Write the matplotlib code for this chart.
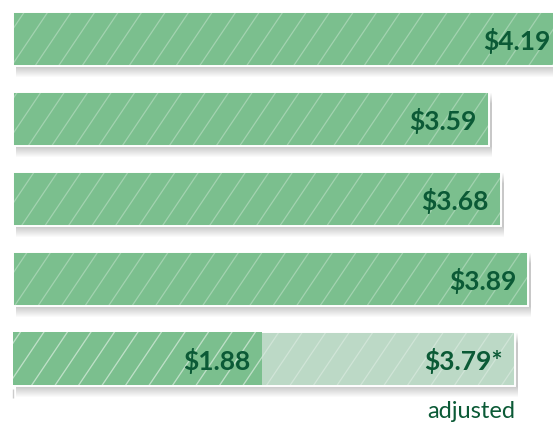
import numpy as np
import matplotlib.pyplot as plt
from matplotlib.collections import LineCollection
from matplotlib.patches import Rectangle

# values
values = [4.19, 3.59, 3.68, 3.89, 3.79]
labels = ["$4.19", "$3.59", "$3.68", "$3.89", "$3.79*"]
base_part = 1.88          # dark portion of the last bar
base_label = "$1.88"
note = "adjusted"

green = "#7bbf8e"
light_green = "#bcd9c6"
text_green = "#0b5a36"

W, H, dpi = 553, 427, 100
px_x = 132.5   # pixels per dollar
px_y = 80.0    # pixels per bar slot

fig = plt.figure(figsize=(W / dpi, H / dpi), dpi=dpi)
ax = fig.add_axes([13 / W, 0, (W - 13) / W, 1])
xmax = (W - 13) / px_x
ax.set_xlim(0, xmax)
ax.set_ylim((H - 39.5) / px_y, -39.5 / px_y)

bar_h = 54 / px_y
ypos = np.arange(len(values))

# soft shadow under every bar
for i, v in enumerate(values):
    for k in range(1, 12):
        sh = Rectangle((3 / px_x, i - bar_h / 2 + k / px_y), v, bar_h,
                       facecolor="black", alpha=0.02, linewidth=0, zorder=1)
        ax.add_patch(sh)

bars = ax.barh(ypos, values, height=bar_h, color=green,
               edgecolor="white", linewidth=1.4, zorder=2)
# last bar: light part past the base value
bars[-1].set_facecolor(light_green)
base = ax.barh(ypos[-1], base_part, height=bar_h - 1.4 / px_y, color=green,
               linewidth=0, zorder=2.5)

# diagonal hatch lines, clipped to each bar
step = 23.5 / px_x
ddx, ddy = 35 / px_x, -52 / px_y
segs = []
for x0 in np.arange(-2, 6, step):
    segs.append([(x0, 0), (x0 + ddx * 10, ddy * 10)])
    segs.append([(x0, 0), (x0 - ddx * 10, -ddy * 10)])
for b in list(bars) + list(base):
    lc = LineCollection(segs, colors="white", linewidths=0.9, alpha=0.3, zorder=3)
    ax.add_collection(lc)
    lc.set_clip_path(b)

pad = 12 / px_x
for i, (v, lab) in enumerate(zip(values, labels)):
    x = min(v - pad, xmax - 2 / px_x)
    ax.text(x, i + 1 / px_y, lab, ha="right", va="center", fontsize=19,
            fontweight="bold", family="Lato", color=text_green, zorder=4)
ax.text(base_part - pad, ypos[-1] + 1 / px_y, base_label, ha="right", va="center",
        fontsize=19, fontweight="bold", family="Lato", color=text_green, zorder=4)
ax.text(values[-1], ypos[-1] + bar_h / 2 + 25 / px_y, note, ha="right", va="center",
        fontsize=17, family="Lato", color=text_green, zorder=4)

for s in ax.spines.values():
    s.set_visible(False)
ax.spines["bottom"].set_position(("data", (390 - 39.5) / px_y))
ax.set_xticks([0])
ax.set_xticklabels([])
ax.set_yticks([])
ax.tick_params(axis="x", length=6.5, width=1, color="#cccccc", direction="out")

fig.savefig("out.png", dpi=dpi)
